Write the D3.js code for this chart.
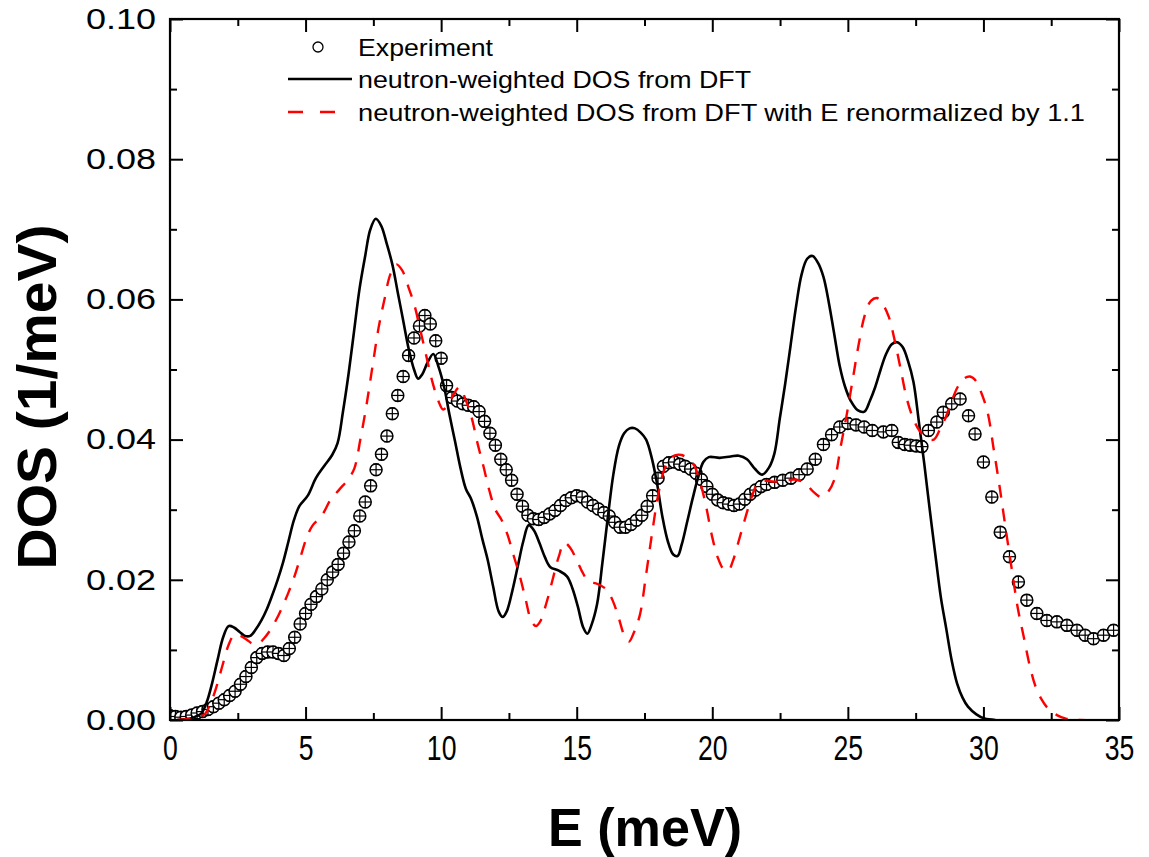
<!DOCTYPE html>
<html>
<head>
<meta charset="utf-8">
<script src="https://cdn.jsdelivr.net/npm/d3@7/dist/d3.min.js"></script>
<style>
  html, body { margin: 0; padding: 0; background: #fff; }
  svg { display: block; }
  text { font-family: "Liberation Sans", Arial, sans-serif; fill: #000; }
</style>
</head>
<body>
<svg id="chart" width="1149" height="857"></svg>
<script>
// ---- measured phonon DOS (open circles) ----
const E_exp = [
  0.0, 0.2, 0.4, 0.6, 0.8, 1.0, 1.2, 1.4, 1.6, 1.8,
  2.0, 2.2, 2.4, 2.6, 2.8, 3.0, 3.2, 3.4, 3.6, 3.8,
  4.0, 4.2, 4.4, 4.6, 4.8, 5.0, 5.2, 5.4, 5.6, 5.8,
  6.0, 6.2, 6.4, 6.6, 6.8, 7.0, 7.2, 7.4, 7.6, 7.8,
  8.0, 8.2, 8.4, 8.6, 8.8, 9.0, 9.2, 9.4, 9.6, 9.8,
  10.0, 10.2, 10.4, 10.6, 10.8, 11.0, 11.2, 11.4, 11.6, 11.8,
  12.0, 12.2, 12.4, 12.6, 12.8, 13.0, 13.2, 13.4, 13.6, 13.8,
  14.0, 14.2, 14.4, 14.6, 14.8, 15.0, 15.2, 15.4, 15.6, 15.8,
  16.0, 16.2, 16.4, 16.6, 16.8, 17.0, 17.2, 17.4, 17.6, 17.8,
  18.0, 18.2, 18.4, 18.6, 18.8, 19.0, 19.2, 19.4, 19.6, 19.8,
  20.0, 20.2, 20.4, 20.6, 20.8, 21.0, 21.2, 21.4, 21.6, 21.8,
  22.0, 22.3, 22.6, 22.9, 23.2, 23.5, 23.8, 24.1, 24.4, 24.7,
  25.0, 25.3, 25.6, 25.9, 26.31, 26.62, 26.86, 27.1, 27.3, 27.52,
  27.73, 27.97, 28.28, 28.52, 28.83, 29.14, 29.45, 29.69, 30.0, 30.31,
  30.62, 30.96, 31.29, 31.6, 31.97, 32.34, 32.71, 33.08, 33.45, 33.75,
  34.06, 34.43, 34.8
];
const DOS_exp = [
  0.0006, 0.0005, 0.0004, 0.0005, 0.0007, 0.0010, 0.0012, 0.0015, 0.0019, 0.0024,
  0.0029, 0.0035, 0.0041, 0.0051, 0.0062, 0.0075, 0.0089, 0.0095, 0.0097, 0.0097,
  0.0095, 0.0092, 0.0102, 0.0118, 0.0137, 0.0152, 0.0165, 0.0176, 0.0187, 0.0200,
  0.0211, 0.0222, 0.0238, 0.0254, 0.0270, 0.0291, 0.0311, 0.0334, 0.0357, 0.0379,
  0.0405, 0.0437, 0.0463, 0.0490, 0.0520, 0.0545, 0.0562, 0.0577, 0.0565, 0.0541,
  0.0516, 0.0477, 0.0460, 0.0455, 0.0451, 0.0449, 0.0447, 0.0440, 0.0426, 0.0409,
  0.0392, 0.0372, 0.0357, 0.0342, 0.0322, 0.0305, 0.0292, 0.0287, 0.0286, 0.0289,
  0.0294, 0.0299, 0.0306, 0.0313, 0.0317, 0.0320, 0.0318, 0.0311, 0.0306, 0.0301,
  0.0296, 0.0291, 0.0282, 0.0275, 0.0275, 0.0279, 0.0285, 0.0292, 0.0305, 0.0320,
  0.0345, 0.0362, 0.0367, 0.0368, 0.0365, 0.0362, 0.0358, 0.0352, 0.0343, 0.0333,
  0.0322, 0.0314, 0.0310, 0.0308, 0.0306, 0.0308, 0.0315, 0.0322, 0.0328, 0.0333,
  0.0336, 0.0339, 0.0342, 0.0345, 0.0350, 0.0358, 0.0372, 0.0393, 0.0407, 0.0418,
  0.0423, 0.0421, 0.0418, 0.0413, 0.0411, 0.0413, 0.0396, 0.0393, 0.0392, 0.0391,
  0.0390, 0.0413, 0.0425, 0.0439, 0.0451, 0.0458, 0.0434, 0.0408, 0.0368, 0.0318,
  0.0268, 0.0233, 0.0197, 0.0171, 0.0152, 0.0142, 0.0140, 0.0135, 0.0128, 0.0121,
  0.0116, 0.0121, 0.0128
];
// half-height of the vertical error bar on each measured point
const DOS_exp_err = 0.0008;

// ---- neutron-weighted DOS from DFT (solid black) ----
const E_dft = [
  0.25, 0.55, 0.75, 0.95, 1.15, 1.35, 1.55, 1.75, 1.96, 2.16,
  2.36, 2.56, 2.76, 2.96, 3.16, 3.37, 3.57, 3.77, 3.97, 4.17,
  4.37, 4.57, 4.77, 5.08, 5.38, 5.68, 5.98, 6.18, 6.38, 6.59,
  6.79, 6.99, 7.19, 7.39, 7.59, 7.79, 7.99, 8.20, 8.40, 8.60,
  8.80, 9.00, 9.15, 9.30, 9.50, 9.71, 9.91, 10.11, 10.31, 10.51,
  10.71, 10.91, 11.11, 11.32, 11.52, 11.72, 11.92, 12.12, 12.27, 12.42,
  12.63, 12.83, 13.03, 13.23, 13.43, 13.63, 13.83, 14.03, 14.34, 14.64,
  14.84, 15.04, 15.24, 15.39, 15.54, 15.75, 15.95, 16.15, 16.35, 16.55,
  16.75, 16.95, 17.15, 17.36, 17.56, 17.76, 17.96, 18.16, 18.36, 18.56,
  18.72, 18.87, 19.07, 19.27, 19.47, 19.67, 19.87, 20.27, 20.68, 20.98,
  21.28, 21.58, 21.84, 22.09, 22.29, 22.49, 22.69, 22.89, 23.09, 23.29,
  23.50, 23.70, 23.90, 24.10, 24.30, 24.50, 24.70, 24.90, 25.11, 25.36,
  25.61, 25.81, 26.01, 26.21, 26.41, 26.62, 26.82, 27.02, 27.22, 27.42,
  27.62, 27.82, 28.02, 28.23, 28.43, 28.63, 28.83, 29.03, 29.23, 29.43,
  29.74, 30.04, 30.44
];
const DOS_dft = [
  0.0000, 0.0001, 0.0002, 0.0005, 0.0009, 0.0025, 0.0052, 0.0085, 0.0118, 0.0134,
  0.0132, 0.0126, 0.0120, 0.0120, 0.0129, 0.0142, 0.0158, 0.0178, 0.0200, 0.0225,
  0.0255, 0.0285, 0.0305, 0.0320, 0.0345, 0.0362, 0.0378, 0.0395, 0.0440, 0.0495,
  0.0555, 0.0615, 0.0660, 0.0700, 0.0715, 0.0705, 0.0680, 0.0650, 0.0610, 0.0570,
  0.0530, 0.0500, 0.0487, 0.0493, 0.0510, 0.0522, 0.0503, 0.0475, 0.0435, 0.0398,
  0.0360, 0.0330, 0.0315, 0.0290, 0.0258, 0.0228, 0.0190, 0.0155, 0.0147, 0.0155,
  0.0185, 0.0220, 0.0255, 0.0278, 0.0270, 0.0252, 0.0232, 0.0218, 0.0213, 0.0205,
  0.0188, 0.0162, 0.0132, 0.0123, 0.0135, 0.0165, 0.0225, 0.0290, 0.0350, 0.0390,
  0.0409, 0.0416, 0.0416, 0.0410, 0.0400, 0.0375, 0.0338, 0.0290, 0.0255, 0.0236,
  0.0234, 0.0250, 0.0282, 0.0315, 0.0345, 0.0368, 0.0375, 0.0374, 0.0376, 0.0377,
  0.0372, 0.0358, 0.0350, 0.0360, 0.0380, 0.0430, 0.0480, 0.0535, 0.0590, 0.0635,
  0.0658, 0.0662, 0.0652, 0.0632, 0.0595, 0.0550, 0.0505, 0.0475, 0.0455, 0.0442,
  0.0440, 0.0455, 0.0475, 0.0500, 0.0522, 0.0536, 0.0539, 0.0532, 0.0512, 0.0482,
  0.0425, 0.0365, 0.0300, 0.0235, 0.0175, 0.0130, 0.0085, 0.0052, 0.0032, 0.0019,
  0.0008, 0.0002, 0.0000
];

// ---- same DFT DOS with the energy axis stretched by 1.1 (red dashed) ----
const E_dft11 = [
  0.28, 0.61, 0.83, 1.05, 1.27, 1.49, 1.71, 1.93, 2.16, 2.38,
  2.60, 2.82, 3.04, 3.26, 3.48, 3.71, 3.93, 4.15, 4.37, 4.59,
  4.81, 5.03, 5.25, 5.59, 5.92, 6.25, 6.58, 6.80, 7.02, 7.25,
  7.47, 7.69, 7.91, 8.13, 8.35, 8.57, 8.79, 9.02, 9.24, 9.46,
  9.68, 9.90, 10.07, 10.23, 10.45, 10.68, 10.90, 11.12, 11.34, 11.56,
  11.78, 12.00, 12.22, 12.45, 12.67, 12.89, 13.11, 13.33, 13.50, 13.66,
  13.89, 14.11, 14.33, 14.55, 14.77, 14.99, 15.21, 15.43, 15.77, 16.10,
  16.32, 16.54, 16.76, 16.93, 17.09, 17.33, 17.55, 17.77, 17.99, 18.21,
  18.43, 18.65, 18.87, 19.10, 19.32, 19.54, 19.76, 19.98, 20.20, 20.42,
  20.59, 20.76, 20.98, 21.20, 21.42, 21.64, 21.86, 22.30, 22.75, 23.08,
  23.41, 23.74, 24.02, 24.30, 24.52, 24.74, 24.96, 25.18, 25.40, 25.62,
  25.85, 26.07, 26.29, 26.51, 26.73, 26.95, 27.17, 27.39, 27.62, 27.90,
  28.17, 28.39, 28.61, 28.83, 29.05, 29.28, 29.50, 29.72, 29.94, 30.16,
  30.38, 30.60, 30.82, 31.05, 31.27, 31.49, 31.71, 31.93, 32.15, 32.37,
  32.71, 33.04, 33.48, 34.30
];
const DOS_dft11 = [
  0.0000, 0.0001, 0.0002, 0.0005, 0.0008, 0.0023, 0.0047, 0.0077, 0.0107, 0.0122,
  0.0120, 0.0115, 0.0109, 0.0109, 0.0117, 0.0129, 0.0144, 0.0162, 0.0182, 0.0205,
  0.0232, 0.0259, 0.0277, 0.0291, 0.0314, 0.0329, 0.0344, 0.0359, 0.0400, 0.0450,
  0.0505, 0.0559, 0.0600, 0.0636, 0.0650, 0.0641, 0.0618, 0.0591, 0.0555, 0.0518,
  0.0482, 0.0455, 0.0443, 0.0448, 0.0464, 0.0475, 0.0457, 0.0432, 0.0395, 0.0362,
  0.0327, 0.0300, 0.0286, 0.0264, 0.0235, 0.0207, 0.0173, 0.0141, 0.0134, 0.0141,
  0.0168, 0.0200, 0.0232, 0.0253, 0.0245, 0.0229, 0.0211, 0.0198, 0.0194, 0.0186,
  0.0171, 0.0147, 0.0120, 0.0112, 0.0123, 0.0150, 0.0205, 0.0264, 0.0318, 0.0355,
  0.0372, 0.0378, 0.0378, 0.0373, 0.0364, 0.0341, 0.0307, 0.0264, 0.0232, 0.0215,
  0.0213, 0.0227, 0.0256, 0.0286, 0.0314, 0.0335, 0.0341, 0.0340, 0.0342, 0.0343,
  0.0338, 0.0325, 0.0318, 0.0327, 0.0345, 0.0391, 0.0436, 0.0486, 0.0536, 0.0577,
  0.0598, 0.0602, 0.0593, 0.0575, 0.0541, 0.0500, 0.0459, 0.0432, 0.0414, 0.0402,
  0.0400, 0.0414, 0.0432, 0.0455, 0.0475, 0.0487, 0.0490, 0.0484, 0.0465, 0.0438,
  0.0386, 0.0332, 0.0273, 0.0214, 0.0159, 0.0118, 0.0077, 0.0047, 0.0029, 0.0017,
  0.0007, 0.0002, 0.0000, 0.0000
];

// ---- axes ----
const xTicks = [0, 5, 10, 15, 20, 25, 30, 35];
const xMinorTicks = [2.5, 7.5, 12.5, 17.5, 22.5, 27.5, 32.5];
const yTicks = [0.00, 0.02, 0.04, 0.06, 0.08, 0.10];
const yMinorTicks = [0.01, 0.03, 0.05, 0.07, 0.09];
const xTitle = "E (meV)";
const yTitle = "DOS (1/meV)";
const legendLabels = [
  "Experiment",
  "neutron-weighted DOS from DFT",
  "neutron-weighted DOS from DFT with E renormalized by 1.1"
];

const svg = d3.select("#chart");
const plot = { left: 170, right: 1119, top: 19, bottom: 720 };

const x = d3.scaleLinear().domain([0, 35]).range([plot.left, plot.right]);
const y = d3.scaleLinear().domain([0, 0.10]).range([plot.bottom, plot.top]);

svg.append("defs").append("clipPath").attr("id", "plotClip")
  .append("rect")
  .attr("x", plot.left).attr("y", plot.top)
  .attr("width", plot.right - plot.left).attr("height", plot.bottom - plot.top);

// ---- measured points: open circle with error bar ----
const markerR = 6;
const expData = E_exp.map((e, i) => ({ e, v: DOS_exp[i] }));
const gExp = svg.append("g").attr("clip-path", "url(#plotClip)");
const pts = gExp.selectAll("g.pt").data(expData).join("g")
  .attr("class", "pt")
  .attr("transform", d => `translate(${x(d.e)},${y(d.v)})`);
pts.append("circle").attr("r", markerR)
  .attr("fill", "#fff").attr("stroke", "#000").attr("stroke-width", 1.5);
pts.append("line")
  .attr("x1", -markerR).attr("x2", markerR).attr("y1", 0).attr("y2", 0)
  .attr("stroke", "#000").attr("stroke-width", 1.2);
pts.append("line")
  .attr("x1", 0).attr("x2", 0)
  .attr("y1", d => y(d.v + DOS_exp_err) - y(d.v))
  .attr("y2", d => y(d.v - DOS_exp_err) - y(d.v))
  .attr("stroke", "#000").attr("stroke-width", 1.2);
pts.append("line")
  .attr("x1", -3).attr("x2", 3)
  .attr("y1", d => y(d.v + DOS_exp_err) - y(d.v))
  .attr("y2", d => y(d.v + DOS_exp_err) - y(d.v))
  .attr("stroke", "#000").attr("stroke-width", 1.2);
pts.append("line")
  .attr("x1", -3).attr("x2", 3)
  .attr("y1", d => y(d.v - DOS_exp_err) - y(d.v))
  .attr("y2", d => y(d.v - DOS_exp_err) - y(d.v))
  .attr("stroke", "#000").attr("stroke-width", 1.2);

// ---- DFT curves ----
const line = d3.line()
  .x(d => x(d.e)).y(d => y(d.v))
  .curve(d3.curveCatmullRom.alpha(0.5));

const gLines = svg.append("g").attr("clip-path", "url(#plotClip)");
gLines.append("path")
  .datum(E_dft.map((e, i) => ({ e, v: DOS_dft[i] })))
  .attr("d", line)
  .attr("fill", "none").attr("stroke", "#000").attr("stroke-width", 2.6)
  .attr("stroke-linejoin", "round");
gLines.append("path")
  .datum(E_dft11.map((e, i) => ({ e, v: DOS_dft11[i] })))
  .attr("d", line)
  .attr("fill", "none").attr("stroke", "#ff0000").attr("stroke-width", 2.4)
  .attr("stroke-dasharray", "13,11");

// ---- frame and ticks (all ticks point inward) ----
const majorLen = 13, minorLen = 7;
function styleAxis(g) {
  g.select(".domain").remove();
  g.selectAll(".tick line").attr("stroke", "#000").attr("stroke-width", 2);
}

// bottom
svg.append("g").attr("transform", `translate(0,${plot.bottom})`)
  .call(d3.axisBottom(x).tickValues(xTicks).tickFormat(d3.format("d"))
    .tickSizeInner(-majorLen).tickSizeOuter(0).tickPadding(14))
  .call(styleAxis)
  .call(g => g.selectAll(".tick text")
    .attr("font-size", 36).attr("dy", "0.71em")
    .attr("transform", "scale(0.74,1)"));
svg.append("g").attr("transform", `translate(0,${plot.bottom})`)
  .call(d3.axisBottom(x).tickValues(xMinorTicks).tickFormat("")
    .tickSizeInner(-minorLen).tickSizeOuter(0))
  .call(styleAxis);

// top
svg.append("g").attr("transform", `translate(0,${plot.top})`)
  .call(d3.axisTop(x).tickValues(xTicks).tickFormat("")
    .tickSizeInner(-majorLen).tickSizeOuter(0))
  .call(styleAxis);
svg.append("g").attr("transform", `translate(0,${plot.top})`)
  .call(d3.axisTop(x).tickValues(xMinorTicks).tickFormat("")
    .tickSizeInner(-minorLen).tickSizeOuter(0))
  .call(styleAxis);

// left
svg.append("g").attr("transform", `translate(${plot.left},0)`)
  .call(d3.axisLeft(y).tickValues(yTicks).tickFormat(d3.format(".2f"))
    .tickSizeInner(-majorLen).tickSizeOuter(0).tickPadding(14))
  .call(styleAxis)
  .call(g => g.selectAll(".tick text")
    .attr("font-size", 29)
    .attr("textLength", 70).attr("lengthAdjust", "spacingAndGlyphs"));
svg.append("g").attr("transform", `translate(${plot.left},0)`)
  .call(d3.axisLeft(y).tickValues(yMinorTicks).tickFormat("")
    .tickSizeInner(-minorLen).tickSizeOuter(0))
  .call(styleAxis);

// right
svg.append("g").attr("transform", `translate(${plot.right},0)`)
  .call(d3.axisRight(y).tickValues(yTicks).tickFormat("")
    .tickSizeInner(-majorLen).tickSizeOuter(0))
  .call(styleAxis);
svg.append("g").attr("transform", `translate(${plot.right},0)`)
  .call(d3.axisRight(y).tickValues(yMinorTicks).tickFormat("")
    .tickSizeInner(-minorLen).tickSizeOuter(0))
  .call(styleAxis);

svg.append("rect")
  .attr("x", plot.left).attr("y", plot.top)
  .attr("width", plot.right - plot.left).attr("height", plot.bottom - plot.top)
  .attr("fill", "none").attr("stroke", "#000").attr("stroke-width", 2.2);

// ---- axis titles ----
svg.append("text")
  .attr("x", 645).attr("y", 846)
  .attr("text-anchor", "middle")
  .attr("font-size", 54).attr("font-weight", "bold")
  .attr("textLength", 194).attr("lengthAdjust", "spacingAndGlyphs")
  .text(xTitle);

svg.append("text")
  .attr("transform", "translate(56,397) rotate(-90)")
  .attr("text-anchor", "middle")
  .attr("font-size", 55).attr("font-weight", "bold")
  .attr("textLength", 345).attr("lengthAdjust", "spacingAndGlyphs")
  .text(yTitle);

// ---- legend ----
const legend = svg.append("g");
const rowY = [47, 79, 112];
const textW = [135, 393, 727];
legend.append("circle")
  .attr("cx", 318).attr("cy", rowY[0]).attr("r", 5)
  .attr("fill", "#fff").attr("stroke", "#000").attr("stroke-width", 1.3);
legend.append("line")
  .attr("x1", 288).attr("x2", 352).attr("y1", rowY[1]).attr("y2", rowY[1])
  .attr("stroke", "#000").attr("stroke-width", 2.6);
legend.append("line")
  .attr("x1", 288).attr("x2", 336).attr("y1", rowY[2]).attr("y2", rowY[2])
  .attr("stroke", "#ff0000").attr("stroke-width", 2.4)
  .attr("stroke-dasharray", "15,17");
legend.selectAll("text.lab").data(legendLabels).join("text")
  .attr("class", "lab")
  .attr("x", 358)
  .attr("y", (d, i) => rowY[i])
  .attr("dy", "0.36em")
  .attr("font-size", 24)
  .attr("textLength", (d, i) => textW[i])
  .attr("lengthAdjust", "spacingAndGlyphs")
  .text(d => d);
</script>
</body>
</html>
